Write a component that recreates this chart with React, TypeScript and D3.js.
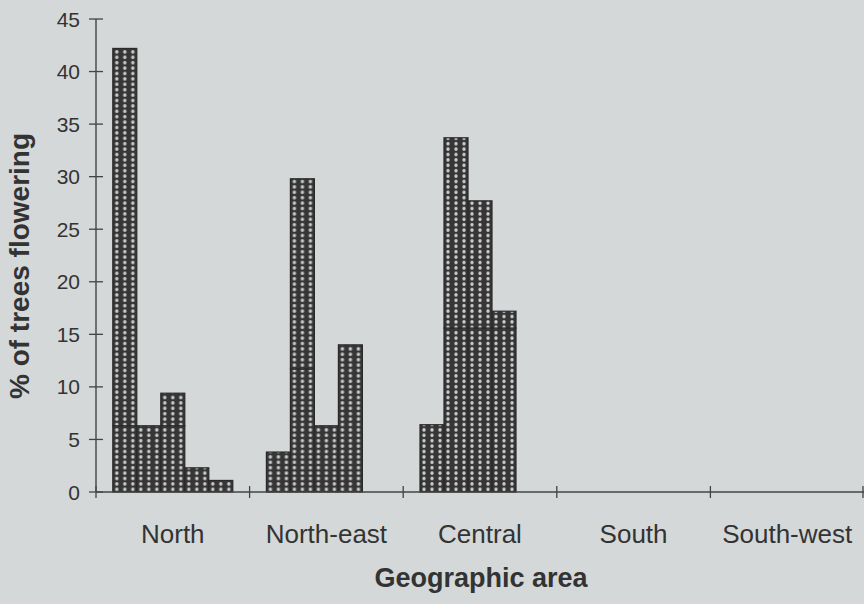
import React from "react";
import * as d3 from "d3";

const categories = ["North", "North-east", "Central", "South", "South-west"];
const slots = ["1", "2", "3", "4", "5"];
// lower (front) segment of each bar
const lowerValues = [
  [6.3, 6.3, 6.3, 2.3, 1.1],
  [3.8, 11.7, 6.3, 14.0, 0],
  [6.4, 15.6, 15.6, 15.6, 0],
  [0, 0, 0, 0, 0],
  [0, 0, 0, 0, 0],
];
// total height of each bar
const totalValues = [
  [42.2, 6.3, 9.4, 2.3, 1.1],
  [3.8, 29.8, 6.3, 14.0, 0],
  [6.4, 33.7, 27.7, 17.2, 0],
  [0, 0, 0, 0, 0],
  [0, 0, 0, 0, 0],
];
const yTicks = [0, 5, 10, 15, 20, 25, 30, 35, 40, 45];

const W = 864;
const H = 604;

export default function App() {
  const x0 = d3.scaleBand<string>().domain(categories).range([96, 864]).paddingInner(0).paddingOuter(0);
  const x1 = d3.scaleBand<string>().domain(slots).range([0, x0.bandwidth()]).paddingInner(0).paddingOuter(0.7);
  const y = d3.scaleLinear().domain([0, 45]).range([492, 19]);
  const bw = x1.bandwidth();
  const font = "'Liberation Sans', Arial, sans-serif";

  const bars: { key: string; x: number; lo: number; hi: number }[] = [];
  categories.forEach((c, ci) => {
    slots.forEach((s, si) => {
      const lo = lowerValues[ci][si];
      const hi = totalValues[ci][si];
      if (hi > 0) bars.push({ key: `${ci}-${si}`, x: (x0(c) ?? 0) + (x1(s) ?? 0), lo, hi });
    });
  });

  return (
    <svg width={W} height={H} style={{ position: "absolute", left: 0, top: 0 }} fontFamily={font}>
      <defs>
        {bars.map((b) => (
          <pattern
            key={b.key}
            id={`dots-${b.key}`}
            patternUnits="userSpaceOnUse"
            x={b.x}
            y={y(0)}
            width={bw / 3}
            height={5.4}
          >
            <rect width={bw / 3} height={5.4} fill="#363636" />
            <circle cx={bw / 6} cy={2.7} r={1.7} fill="#cdcdcd" />
          </pattern>
        ))}
      </defs>
      <rect width={W} height={H} fill="#d4d8d9" />
      {/* bars */}
      {bars.map((b) => (
        <g key={b.key}>
          {b.lo > 0 && (
            <rect
              x={b.x}
              y={y(b.lo)}
              width={bw}
              height={y(0) - y(b.lo)}
              fill={`url(#dots-${b.key})`}
              stroke="#2a2a2a"
              strokeWidth={1.2}
            />
          )}
          {b.hi > b.lo && (
            <rect
              x={b.x}
              y={y(b.hi)}
              width={bw}
              height={y(b.lo) - y(b.hi)}
              fill={`url(#dots-${b.key})`}
              stroke="#2a2a2a"
              strokeWidth={1.2}
            />
          )}
        </g>
      ))}
      {/* y axis */}
      <line x1={96} x2={96} y1={y(45)} y2={y(0)} stroke="#444" strokeWidth={1.4} />
      {yTicks.map((t) => (
        <g key={t}>
          <line x1={89} x2={103} y1={y(t)} y2={y(t)} stroke="#444" strokeWidth={1.3} />
          <text x={80} y={y(t)} dy="0.36em" textAnchor="end" fontSize={21} fill="#333">
            {t}
          </text>
        </g>
      ))}
      {/* x axis */}
      <line x1={96} x2={864} y1={y(0)} y2={y(0)} stroke="#444" strokeWidth={1.4} />
      {categories.map((c) => (
        <line key={c} x1={x0(c) ?? 0} x2={x0(c) ?? 0} y1={y(0) - 6} y2={y(0) + 6} stroke="#444" strokeWidth={1.3} />
      ))}
      <line x1={863} x2={863} y1={y(0) - 6} y2={y(0) + 6} stroke="#444" strokeWidth={1.3} />
      {categories.map((c) => (
        <text
          key={c}
          x={(x0(c) ?? 0) + x0.bandwidth() / 2}
          y={543}
          textAnchor="middle"
          fontSize={26}
          fill="#333"
        >
          {c}
        </text>
      ))}
      <text x={481} y={587} textAnchor="middle" fontSize={27} fontWeight="bold" fill="#333">
        Geographic area
      </text>
      <text
        transform={`translate(29, 266) rotate(-90)`}
        textAnchor="middle"
        fontSize={28}
        fontWeight="bold"
        fill="#333"
      >
        % of trees flowering
      </text>
    </svg>
  );
}
